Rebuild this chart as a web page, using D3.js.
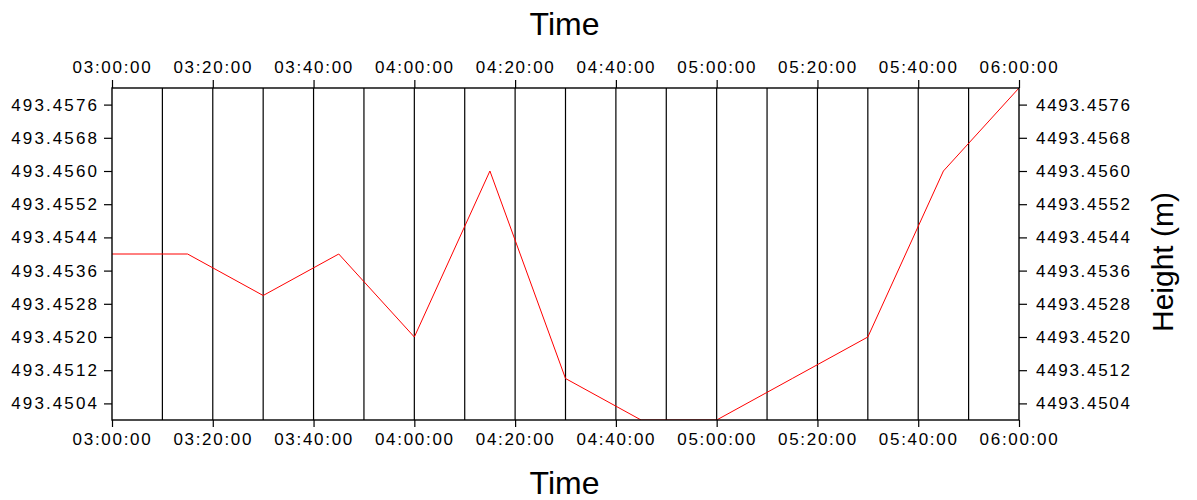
<!DOCTYPE html>
<html><head><meta charset="utf-8">
<script src="https://cdn.jsdelivr.net/npm/d3@7"></script>
<style>
body{margin:0;background:#fff;}
svg{display:block;font-family:"Liberation Sans",Arial,sans-serif;}
.tick text{font-size:17px;letter-spacing:1.7px;fill:#000;}
.left .tick text{letter-spacing:2.1px;}
</style></head><body>
<svg id="c" width="1197" height="500"></svg>
<script>
const times = ["03:00","03:15","03:30","03:45","04:00","04:15","04:30","04:45","05:00","05:15","05:30","05:45","06:00"];
const heights = [4493.4540,4493.4540,4493.4530,4493.4540,4493.4520,4493.4560,4493.4510,4493.4500,4493.4500,4493.4510,4493.4520,4493.4560,4493.4580];
const yTicks = [4493.4504,4493.4512,4493.4520,4493.4528,4493.4536,4493.4544,4493.4552,4493.4560,4493.4568,4493.4576];
const xTickLabels = ["03:00","03:20","03:40","04:00","04:20","04:40","05:00","05:20","05:40","06:00"];
const gridTimes = ["03:10","03:20","03:30","03:40","03:50","04:00","04:10","04:20","04:30","04:40","04:50","05:00","05:10","05:20","05:30","05:40","05:50"];
const yDomain = [4493.4500, 4493.4580];
const xDomain = ["03:00","06:00"];

const toDate = s => new Date(Date.UTC(2000,0,1,+s.slice(0,2),+s.slice(3,5)));
const L=112, R=1019, T=88, B=420;
const svg = d3.select("#c");
const x = d3.scaleUtc().domain(xDomain.map(toDate)).range([L,R]);
const y = d3.scaleLinear().domain(yDomain).range([B,T]);
const fmt = d3.utcFormat("%H:%M:%S");

const defs = svg.append("defs");
defs.append("clipPath").attr("id","cp").append("rect")
  .attr("x",L).attr("y",T).attr("width",R-L).attr("height",B-T);
defs.append("clipPath").attr("id","cl").append("rect")
  .attr("x",10).attr("y",0).attr("width",200).attr("height",500);

// grid
svg.append("g").selectAll("line").data(gridTimes.map(toDate)).join("line")
  .attr("x1",d=>x(d)).attr("x2",d=>x(d)).attr("y1",T).attr("y2",B)
  .attr("stroke","#000").attr("stroke-width",1.2);

// data line
const pts = times.map((t,i)=>[toDate(t),heights[i]]);
svg.append("path").datum(pts).attr("clip-path","url(#cp)")
  .attr("fill","none").attr("stroke","#ff0000").attr("stroke-width",1)
  .attr("d", d3.line().x(d=>x(d[0])).y(d=>y(d[1])));

// frame
svg.append("rect").attr("x",L).attr("y",T).attr("width",R-L).attr("height",B-T)
  .attr("fill","none").attr("stroke","#000").attr("stroke-width",1.4);

const xt = xTickLabels.map(toDate);
function style(g){ g.select(".domain").remove(); g.selectAll(".tick line").attr("stroke","#000").attr("stroke-width",1.2); g.selectAll("text").attr("font-family",null).attr("font-size",null); }
svg.append("g").attr("transform",`translate(0,${T})`)
  .call(d3.axisTop(x).tickValues(xt).tickFormat(fmt).tickSize(8).tickPadding(7)).call(style);
svg.append("g").attr("transform",`translate(0,${B})`)
  .call(d3.axisBottom(x).tickValues(xt).tickFormat(fmt).tickSize(7).tickPadding(6)).call(style);
svg.append("g").attr("clip-path","url(#cl)").append("g").attr("class","left").attr("transform",`translate(${L},0)`)
  .call(d3.axisLeft(y).tickValues(yTicks).tickFormat(d3.format(".4f")).tickSize(8).tickPadding(5)).call(style);
svg.append("g").attr("transform",`translate(${R},0)`)
  .call(d3.axisRight(y).tickValues(yTicks).tickFormat(d3.format(".4f")).tickSize(8).tickPadding(9)).call(style);

// titles
svg.append("text").attr("x",(L+R)/2-1).attr("y",35).attr("text-anchor","middle")
  .attr("font-size",32).text("Time");
svg.append("text").attr("x",(L+R)/2-1).attr("y",494).attr("text-anchor","middle")
  .attr("font-size",32).text("Time");
svg.append("text").attr("transform",`translate(1173,${(T+B)/2+8}) rotate(-90)`)
  .attr("text-anchor","middle").attr("font-size",30).text("Height (m)");
</script></body></html>
